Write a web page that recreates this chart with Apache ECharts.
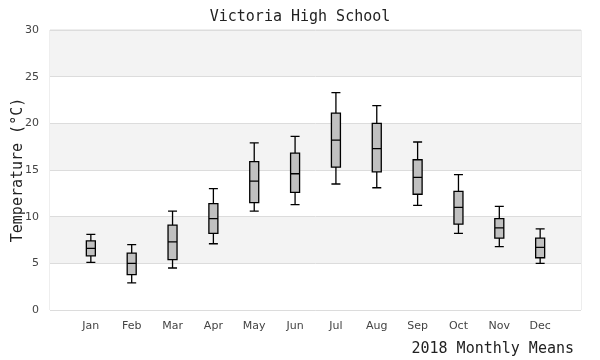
<!DOCTYPE html>
<html>
<head>
<meta charset="utf-8">
<script src="https://cdn.jsdelivr.net/npm/echarts@6/dist/echarts.min.js"></script>
<style>html,body{margin:0;padding:0;background:#fff}#c{width:600px;height:360px}</style>
</head>
<body>
<div id="c"></div>
<script>
var months = ['Jan','Feb','Mar','Apr','May','Jun','Jul','Aug','Sep','Oct','Nov','Dec'];
var minVals    = [5.1, 2.9, 4.5, 7.1, 10.6, 11.3, 13.5, 13.1, 11.2, 8.2, 6.8, 5.0];
var q1Vals     = [5.8, 3.8, 5.4, 8.2, 11.5, 12.6, 15.3, 14.8, 12.4, 9.2, 7.7, 5.6];
var medianVals = [6.6, 5.0, 7.3, 9.8, 13.8, 14.6, 18.2, 17.3, 14.2, 11.0, 8.8, 6.7];
var q3Vals     = [7.4, 6.1, 9.1, 11.4, 15.9, 16.8, 21.1, 20.0, 16.1, 12.7, 9.8, 7.7];
var maxVals    = [8.1, 7.0, 10.6, 13.0, 17.9, 18.6, 23.3, 21.9, 18.0, 14.5, 11.1, 8.7];
var yTicks = [0, 5, 10, 15, 20, 25, 30];

var cats = [''].concat(months).concat(['']);
var boxData = months.map(function (m, i) {
  return [m, minVals[i], q1Vals[i], medianVals[i], q3Vals[i], maxVals[i]];
});

var chart = echarts.init(document.getElementById('c'));
var mono = '"DejaVu Sans Mono", monospace';
chart.setOption({
  animation: false,
  title: [
    { text: 'Victoria High School', left: 'center', top: 5,
      textStyle: { fontFamily: mono, fontSize: 15, fontWeight: 'normal', color: '#222' } },
    { text: '2018 Monthly Means', right: 21, top: 337,
      textStyle: { fontFamily: mono, fontSize: 15, fontWeight: 'normal', color: '#222' } }
  ],
  grid: { left: 50, right: 19, top: 30, bottom: 50, containLabel: false, outerBoundsMode: 'none',
    show: true, borderColor: '#dcdcdc', borderWidth: 1, backgroundColor: 'transparent' },
  xAxis: {
    type: 'category', data: cats, boundaryGap: false,
    axisLine: { show: false }, axisTick: { show: false },
    splitLine: { show: false },
    axisLabel: { color: '#444', fontSize: 11, fontFamily: '"DejaVu Sans", sans-serif', margin: 11, interval: 0 }
  },
  yAxis: {
    type: 'value', min: yTicks[0], max: yTicks[yTicks.length - 1], interval: 5,
    name: 'Temperature (°C)', nameLocation: 'middle', nameGap: 24, nameRotate: 90,
    nameMoveOverlap: false,
    nameTextStyle: { fontFamily: mono, fontSize: 15, color: '#222' },
    axisLine: { show: false }, axisTick: { show: false },
    axisLabel: { color: '#444', fontSize: 11, fontFamily: '"DejaVu Sans", sans-serif', margin: 11 },
    splitLine: { show: true, lineStyle: { color: '#dcdcdc', width: 1 } },
    splitArea: { show: true, areaStyle: { color: ['#ffffff', '#f3f3f3'] } }
  },
  series: [{
    type: 'boxplot',
    data: boxData,
    encode: { x: 0, y: [1, 2, 3, 4, 5] },
    boxWidth: [9, 9],
    itemStyle: { color: '#c0c0c0', borderColor: '#000', borderWidth: 1.3 }
  }]
});
</script>
</body>
</html>
